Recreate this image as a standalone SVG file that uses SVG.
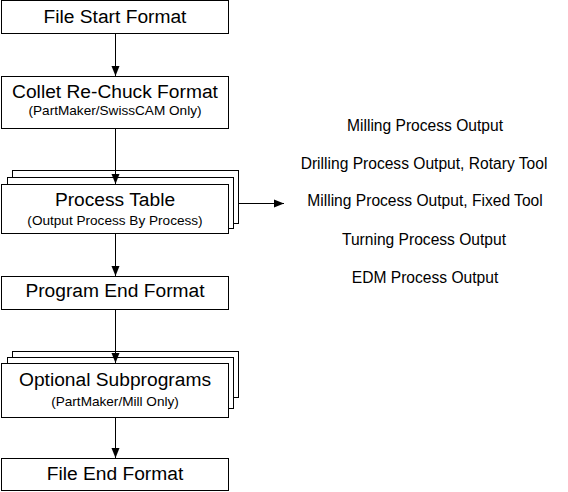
<svg xmlns="http://www.w3.org/2000/svg" width="568" height="492" viewBox="0 0 568 492">
<defs>
<style>
.box{fill:#fff;stroke:#000;stroke-width:1}
.t{font-family:"Liberation Sans",Arial,sans-serif;font-size:19.2px;fill:#000;text-anchor:middle}
.s{font-family:"Liberation Sans",Arial,sans-serif;font-size:13.6px;fill:#000;text-anchor:middle}
.r{font-family:"Liberation Sans",Arial,sans-serif;font-size:15.6px;fill:#000;text-anchor:middle}
.c{stroke:#000;stroke-width:1;fill:none}
</style>
<marker id="ah" viewBox="0 0 10 10" refX="10" refY="5" markerWidth="10" markerHeight="10" markerUnits="userSpaceOnUse" orient="auto">
<path d="M0,1 L10,5 L0,9 Z" fill="#000"/>
</marker>
</defs>
<rect width="568" height="492" fill="#fff"/>
<g id="file-start">
<rect class="box" x="1.5" y="0.5" width="227" height="33"/>
<text class="t" x="115" y="23">File Start Format</text>
</g>
<g id="collet">
<rect class="box" x="1.5" y="76.5" width="227" height="52"/>
<text class="t" x="115" y="98">Collet Re-Chuck Format</text>
<text class="s" x="115" y="115">(PartMaker/SwissCAM Only)</text>
</g>
<g id="process-table">
<rect class="box" x="12.5" y="170.5" width="226" height="53"/>
<rect class="box" x="7.5" y="177.5" width="226" height="51"/>
<rect class="box" x="1.5" y="184.5" width="227" height="49"/>
<text class="t" x="115" y="206">Process Table</text>
<text class="s" x="115" y="225">(Output Process By Process)</text>
</g>
<g id="program-end">
<rect class="box" x="1.5" y="276.5" width="227" height="33"/>
<text class="t" x="115" y="297">Program End Format</text>
</g>
<g id="subprograms">
<rect class="box" x="12.5" y="351.5" width="226" height="46"/>
<rect class="box" x="7.5" y="357.5" width="226" height="51"/>
<rect class="box" x="1.5" y="363.5" width="227" height="54"/>
<text class="t" x="115" y="386">Optional Subprograms</text>
<text class="s" x="115" y="406">(PartMaker/Mill Only)</text>
</g>
<g id="file-end">
<rect class="box" x="1.5" y="458.5" width="227" height="32"/>
<text class="t" x="115" y="480">File End Format</text>
</g>
<g id="outputs">
<text class="r" x="425" y="131">Milling Process Output</text>
<text class="r" x="424" y="169">Drilling Process Output, Rotary Tool</text>
<text class="r" x="425" y="206">Milling Process Output, Fixed Tool</text>
<text class="r" x="424" y="245">Turning Process Output</text>
<text class="r" x="425" y="283">EDM Process Output</text>
</g>
<g id="connectors">
<line class="c" x1="115.5" y1="34" x2="115.5" y2="76" marker-end="url(#ah)"/>
<line class="c" x1="115.5" y1="129" x2="115.5" y2="184" marker-end="url(#ah)"/>
<line class="c" x1="115.5" y1="234" x2="115.5" y2="276" marker-end="url(#ah)"/>
<line class="c" x1="115.5" y1="310" x2="115.5" y2="363" marker-end="url(#ah)"/>
<line class="c" x1="115.5" y1="418" x2="115.5" y2="458" marker-end="url(#ah)"/>
<line class="c" x1="239" y1="203.5" x2="284" y2="203.5" marker-end="url(#ah)"/>
</g>
</svg>
